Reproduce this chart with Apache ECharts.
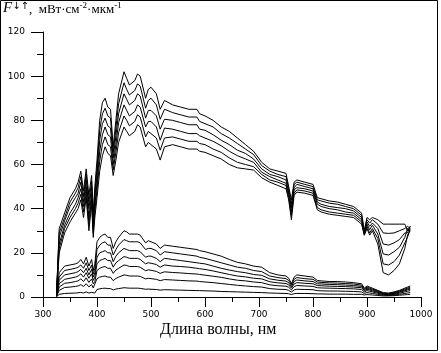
<!DOCTYPE html>
<html><head><meta charset="utf-8">
<script src="https://cdn.jsdelivr.net/npm/echarts@6/dist/echarts.min.js"></script>
<style>html,body{margin:0;padding:0;background:#fff}#c{width:441px;height:353px}</style>
</head><body><div id="c"></div>
<script>
// wavelengths, nm
var W = [325,330,340,350,360,365,370,375,380,385,390,393,396,400,405,410,415,420,425,430,435,440,450,455,460,470,475,480,490,495,500,510,517,525,540,555,570,585,590,600,615,630,645,660,675,690,705,720,735,750,755,760,765,770,785,800,808,815,830,845,860,875,890,895,900,905,910,920,930,940,950,960,970,975,980];
// upper group (downward flux)
var U1 = [1,31,38,45,49,52,57,48,58,46,55,38,50,62,80,88,90,86,85,68,80,92,102,99,96,98,101,100,90,94,95,92,85,89,87,86,85,85,83,82,80,77,75,72,69,66,61,58,57,56,50,44,52,53,52,51,45,44.5,43.5,43,42,41,38,30,36,35,36,35,33,33,33,33,33,30,32];
var U2 = [1,29,36,43,47,49.5,54.5,45.5,55.5,43,52.5,36,47,58.5,75.5,83,85.5,82,81,65.5,76.5,87.5,97,94,91.5,93.5,96.5,95.5,85.5,89,90,87,80.5,85,83.5,82.5,81.5,81.5,79.5,78.5,77,74,72,69.5,67,64.5,59.5,57,55.5,54.5,49,42,51,52,51,50,44,43.5,42.5,42,41,40,37,29.5,35,33.5,35,33,29,28.8,29,30,31,32,31];
var U3 = [1,27,34.5,41,45,47,52,43,53,40,50,34,44.5,55,71,78.5,81,77.5,76.5,63,73,83,92,89.5,87,89,92,91,81,84.5,84.5,82,76,80.5,80,79,78,78,76,75.5,73.5,71,69,66.5,65,62.5,58,55.5,54.5,53,47.5,40.5,49.5,51,50,49,43,42,41,40.5,40,39,36,29,34,32,33.5,31,24,23.5,24.5,26,29,29,32];
var U4 = [1,24,32.5,38,42,45,49,41,50,36,47,31,41.5,51.5,66,73.5,77,73.5,72.5,60,69,79,87,84.5,82,84,87,86,77,79.5,79.5,77,71,76.5,76,75,74,74,73,72,70.5,68.5,66,64,62.5,61,56.5,54.5,53,51.5,46.5,38.5,48.5,49.5,49,48,42,41,40,39.5,38.5,38,35,28.5,33,30.5,32.5,28.5,19.5,19,20.5,22.5,27,31,30];
var U5 = [1,22,31,36,40,42.5,46.5,38.5,47.5,33,44.5,29,39,48.5,61.5,69,72.5,69,68,57.5,65.5,74.5,82,80,77.5,79.5,82.5,81.5,72.5,75,74,72,66.5,72,72.5,71.5,70.5,70.5,69.5,69,67,65.5,63,61,60,59,55.5,53,52,50.5,45,37,47,48.5,48,47,40.5,39.5,38.5,38,37.5,37,34,28,32,29,31,26.5,15,14.5,16,19,24.5,27,31];
var U6 = [1,20,29,34,38,40,44,36,45,30,42,27,36,45,57,64,68,65,64,55,62,70,77,75,73,75,78,77,68,70,69,67,62,68,69,68,67,67,66,65.5,64,62.5,60,58.5,58,57.5,54,52,50.5,49,44,35,46,47.5,47,46,39.5,38.5,37.5,37,36.5,36,33,28,31,28,30,24,11,10,12,15,22,28,30];
// lower group (upward flux)
var L1 = [0.5,11,14,14.5,15,15.5,17,15,18,14,17,12,15,25,27,28,28.5,27,27,22,25,27,30,29.5,28.5,28.5,28.5,28,24.5,25.5,25,24,22,23.5,23,22.5,22,21.5,21,20.5,19.5,18.5,17,15.7,15,14,13.5,11,10,9.5,8.5,6,9,10,9.5,9,7.5,7.3,7,7,6.8,6.5,6,4,5,4.5,4,3,2,1.8,2.3,3,4,4.5,5];
var L2 = [0.5,9,12,12.5,13,13.5,14.5,13,15.5,12,14.5,10.5,13,21.5,23.5,24.5,25,23.5,23.5,19,21.5,23.5,26,25.5,25,25,25,24.5,21.5,22,22,21,19,20.5,20,19.5,19,18.5,18,17.5,16.5,15.5,14.5,13.5,13,12,11.5,9.5,8.8,8.3,7.5,5.3,8,8.8,8.3,8,6.8,6.6,6.4,6.3,6.1,5.9,5.4,3.6,4.5,4,3.6,2.7,1.7,1.5,2,2.7,3.6,4,4.5];
var L3 = [0.4,7.5,10,10.5,11,11.5,12.5,11,13,10,12.5,9,11,18,20,20.5,21,20,20,16,18.5,20,22,21.5,21,21,21,20.5,18,18.5,18.5,17.5,16,17.5,17,16.5,16,15.5,15.3,15,14,13,12.2,11.5,11,10.2,9.8,8.2,7.6,7.2,6.5,4.7,7,7.7,7.3,7,6,5.9,5.7,5.6,5.4,5.2,4.8,3.2,4,3.6,3.2,2.4,1.5,1.3,1.7,2.4,3.2,3.6,4];
var L4 = [0.3,6,8,8.5,9,9.5,10.5,9,11,8.5,10.5,7.5,9,15,16.5,17,17.5,16.5,16.5,13.5,15.5,16.5,18.3,18,17.5,17.5,17.5,17,15,15.5,15.3,14.7,13.5,14.5,14,13.8,13.5,13,12.8,12.5,11.8,11,10.2,9.5,9.1,8.5,8.2,6.9,6.4,6.1,5.5,4,5.9,6.5,6.2,6,5.2,5.1,4.9,4.8,4.7,4.5,4.2,2.8,3.5,3.2,2.8,2.1,1.3,1.1,1.5,2.1,2.8,3.2,3.5];
var L5 = [0.3,4.5,6.2,6.5,7,7.3,8.2,7,8.7,6.6,8.2,6,7,12,13,13.5,13.8,13,13,10.7,12.2,13,14.5,14.3,13.8,13.8,13.8,13.5,11.9,12.3,12.1,11.6,10.7,11.4,11.1,10.9,10.6,10.4,10.2,9.9,9.4,8.9,8.2,7.6,7.3,6.8,6.5,5.5,5.1,4.9,4.4,3.2,4.7,5.2,5,4.8,4.2,4.1,4,3.9,3.8,3.7,3.4,2.3,2.9,2.6,2.3,1.7,1.1,0.9,1.2,1.7,2.3,2.6,2.9];
var L6 = [0.2,3,4.3,4.5,4.8,5,5.6,4.8,6,4.6,5.6,4.1,4.8,8.3,9,9.3,9.5,9,9,7.4,8.4,9,10,9.8,9.5,9.5,9.5,9.3,8.2,8.5,8.3,8,7.4,7.9,7.7,7.5,7.3,7.2,7,6.8,6.5,6.1,5.7,5.3,5,4.7,4.5,3.8,3.5,3.4,3,2.2,3.2,3.5,3.4,3.3,2.9,2.8,2.7,2.7,2.6,2.5,2.3,1.6,2,1.8,1.6,1.2,0.8,0.7,0.9,1.2,1.6,1.8,2];
var L7 = [0.1,1.2,1.6,1.7,1.8,1.9,2.1,1.8,2.3,1.8,2.1,1.6,1.8,3.4,3.7,3.9,4,3.8,3.8,3.2,3.6,3.8,4.2,4.1,4,4,4,3.9,3.5,3.6,3.5,3.4,3.1,3.3,3.2,3.1,3,2.9,2.9,2.8,2.7,2.5,2.4,2.3,2.2,2.1,2,1.8,1.7,1.6,1.5,1.1,1.5,1.6,1.6,1.5,1.4,1.4,1.3,1.3,1.3,1.2,1.2,0.9,1.1,1,0.9,0.7,0.5,0.5,0.6,0.8,1,1.1,1.2];
var X_TICKS = [300,400,500,600,700,800,900,1000];
var Y_TICKS = [0,20,40,60,80,100,120];
var TITLE_UNITS = ',  мВт·см';
var X_NAME = 'Длина волны, нм';

var curves = [U1,U2,U3,U4,U5,U6,L1,L2,L3,L4,L5,L6,L7];
var series = curves.map(function(arr){
  return {type:'line', data: W.map(function(w,i){return [w, arr[i]];}), symbol:'none',
    lineStyle:{color:'#000', width:1}, silent:true};
});
var lab = {color:'#000', fontFamily:'DejaVu Sans', fontSize:9, formatter:function(v){return String(v);}};
var chart = echarts.init(document.getElementById('c'), null, {renderer:'canvas'});
chart.setOption({
  animation:false,
  backgroundColor:'#fff',
  grid:{left:43, right:20, top:32, bottom:56},
  xAxis:{type:'value', min:X_TICKS[0], max:X_TICKS[X_TICKS.length-1], interval:100,
    axisLine:{lineStyle:{color:'#000', width:1}},
    axisTick:{length:10, lineStyle:{color:'#000'}},
    minorTick:{show:true, splitNumber:2, length:5, lineStyle:{color:'#000'}},
    splitLine:{show:false},
    axisLabel:Object.assign({margin:13}, lab)},
  yAxis:{type:'value', min:Y_TICKS[0], max:Y_TICKS[Y_TICKS.length-1], interval:20,
    axisLine:{show:true, lineStyle:{color:'#000', width:1}},
    axisTick:{show:true, length:12, lineStyle:{color:'#000'}},
    minorTick:{show:true, splitNumber:2, length:6, lineStyle:{color:'#000'}},
    splitLine:{show:false},
    axisLabel:Object.assign({margin:18}, lab)},
  graphic:[
    {type:'rect', shape:{x:0.5,y:0.5,width:437,height:350}, style:{fill:'none', stroke:'#000', lineWidth:1}, silent:true},
    {type:'text', left:3, top:1, style:{
      text:'{f|F}{a|↓↑}{t|' + TITLE_UNITS + '}{s|-2}{t|·мкм}{s|-1}',
      rich:{
        f:{fontFamily:'Liberation Serif', fontStyle:'italic', fontSize:15, fill:'#000', verticalAlign:'bottom'},
        a:{fontFamily:'DejaVu Sans', fontSize:10, fill:'#000', verticalAlign:'top'},
        t:{fontFamily:'Liberation Serif', fontSize:13, fill:'#000', verticalAlign:'bottom'},
        s:{fontFamily:'Liberation Serif', fontSize:9, fill:'#000', verticalAlign:'top'}
      }}},
    {type:'text', left:160, top:322, style:{text:X_NAME, fontFamily:'Liberation Serif', fontSize:16, fill:'#000'}}
  ],
  series: series
});
</script></body></html>
